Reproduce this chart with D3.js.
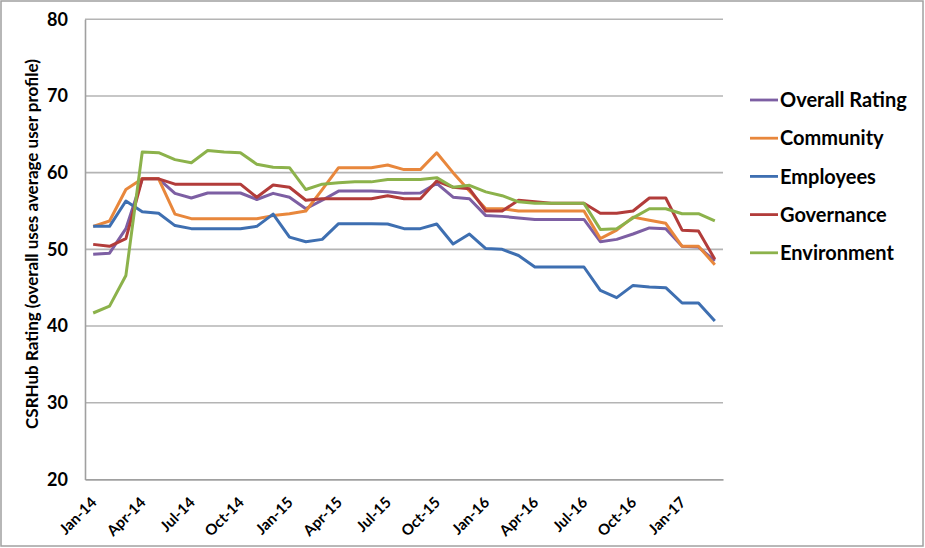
<!DOCTYPE html>
<html><head><meta charset="utf-8">
<script src="https://cdn.jsdelivr.net/npm/d3@7"></script>
<style>
html,body{margin:0;padding:0;background:#fff;}
svg{display:block;font-family:Lato,"Open Sans",sans-serif;font-weight:bold;}
</style></head>
<body><svg id="chart" width="925" height="548"></svg>
<script>
const months = ["Jan-14","Feb-14","Mar-14","Apr-14","May-14","Jun-14","Jul-14","Aug-14","Sep-14","Oct-14","Nov-14","Dec-14",
"Jan-15","Feb-15","Mar-15","Apr-15","May-15","Jun-15","Jul-15","Aug-15","Sep-15","Oct-15","Nov-15","Dec-15",
"Jan-16","Feb-16","Mar-16","Apr-16","May-16","Jun-16","Jul-16","Aug-16","Sep-16","Oct-16","Nov-16","Dec-16",
"Jan-17","Feb-17","Mar-17"];
const xTickLabels = ["Jan-14","Apr-14","Jul-14","Oct-14","Jan-15","Apr-15","Jul-15","Oct-15","Jan-16","Apr-16","Jul-16","Oct-16","Jan-17"];
const yTicks = [20,30,40,50,60,70,80];
const seriesNames = ["Overall Rating","Community","Employees","Governance","Environment"];
const overall = [49.35,49.5,52.7,59.2,59.2,57.3,56.7,57.35,57.35,57.35,56.5,57.3,56.8,55.3,56.4,57.6,57.6,57.6,57.5,57.3,57.35,58.6,56.8,56.6,54.4,54.3,54.1,53.9,53.9,53.9,53.9,51.0,51.3,52.0,52.8,52.7,50.4,50.3,48.5];
const community = [53.0,53.7,57.8,59.2,59.2,54.6,54.0,54.0,54.0,54.0,54.0,54.4,54.65,55.0,57.8,60.65,60.65,60.65,61.0,60.4,60.4,62.6,60.0,57.6,55.3,55.3,55.0,55.0,55.0,55.0,55.0,51.4,52.5,54.2,53.8,53.4,50.4,50.4,48.0];
const employees = [53.0,53.0,56.3,54.9,54.7,53.1,52.7,52.7,52.7,52.7,53.0,54.6,51.6,51.0,51.3,53.35,53.35,53.35,53.3,52.7,52.7,53.3,50.7,52.0,50.1,50.0,49.2,47.7,47.7,47.7,47.7,44.65,43.7,45.3,45.1,45.0,43.0,43.0,40.65];
const governance = [50.65,50.4,51.4,59.2,59.2,58.5,58.5,58.5,58.5,58.5,56.8,58.4,58.1,56.4,56.6,56.6,56.6,56.6,57.0,56.6,56.6,58.9,58.1,57.9,55.0,55.0,56.4,56.2,56.0,56.0,56.0,54.7,54.7,55.0,56.7,56.7,52.5,52.4,48.7];
const environment = [41.7,42.6,46.6,62.7,62.6,61.7,61.3,62.9,62.7,62.6,61.1,60.7,60.65,57.8,58.5,58.7,58.8,58.8,59.1,59.1,59.1,59.35,58.1,58.35,57.5,57.0,56.2,56.0,56.0,56.0,56.0,52.6,52.7,54.1,55.3,55.3,54.65,54.65,53.7];
const colors = ["#7D5FA3","#E8873C","#3E6FB1","#B23C3A","#8CB24B"];

const seriesData = [overall, community, employees, governance, environment];
const svg = d3.select("#chart");
const W = 925, H = 548;
const mLeft = 85, mRight = 723, mTop = 19.3, mBottom = 479.4;
const FONT = "Lato, 'Open Sans', sans-serif";

svg.append("rect").attr("x",1).attr("y",1).attr("width",W-3).attr("height",H-3)
  .attr("fill","#fff").attr("stroke","#a0a0a0").attr("stroke-width",1.5);

const x = d3.scalePoint().domain(months).range([mLeft,mRight]).padding(0.5);
const y = d3.scaleLinear().domain([20,80]).range([mBottom,mTop]);

// gridlines
svg.append("g").selectAll("line").data(yTicks.filter(t=>t>20)).join("line")
  .attr("x1",mLeft).attr("x2",mRight).attr("y1",d=>y(d)).attr("y2",d=>y(d))
  .attr("stroke","#b4b4b4").attr("stroke-width",1.6);

// y axis
const yAxis = d3.axisLeft(y).tickValues(yTicks).tickSize(0).tickPadding(17).tickFormat(d3.format("d"));
const gy = svg.append("g").attr("transform",`translate(${mLeft},0)`).call(yAxis);
gy.select(".domain").attr("stroke","#a0a0a0").attr("stroke-width",1.6);
gy.selectAll("text").attr("font-size",18).attr("font-weight","bold").attr("fill","#000")
  .attr("font-family",FONT);

// x axis
const xAxis = d3.axisBottom(x).tickValues(xTickLabels).tickSize(0).tickPadding(0);
const gx = svg.append("g").attr("transform",`translate(0,${mBottom})`).call(xAxis);
gx.select(".domain").attr("stroke","#a0a0a0").attr("stroke-width",1.6);
gx.selectAll("text").attr("font-size",15).attr("font-weight","bold").attr("fill","#000")
  .attr("font-family",FONT)
  .attr("text-anchor","end").attr("dy",null).attr("y",0)
  .attr("transform","translate(4,24) rotate(-45)");

// lines
const line = d3.line().x((d,i)=>x(months[i])).y(d=>y(d));
svg.append("g").selectAll("path").data(seriesData).join("path")
  .attr("d",d=>line(d)).attr("fill","none")
  .attr("stroke",(d,i)=>colors[i]).attr("stroke-width",3)
  .attr("stroke-linejoin","round");

// y title
svg.append("text").attr("transform","translate(38,244) rotate(-90)")
  .attr("text-anchor","middle").attr("font-size",17).attr("fill","#000")
  .text("CSRHub Rating (overall uses average user profile)");

// legend
const lg = svg.append("g");
seriesNames.forEach((n,i)=>{
  const yy = 100 + i*38.2;
  lg.append("line").attr("x1",750).attr("x2",778).attr("y1",yy).attr("y2",yy)
    .attr("stroke",colors[i]).attr("stroke-width",2.8);
  lg.append("text").attr("x",780).attr("y",yy).attr("dy","0.36em")
    .attr("font-size",20).attr("fill","#000").text(n);
});
</script></body></html>
